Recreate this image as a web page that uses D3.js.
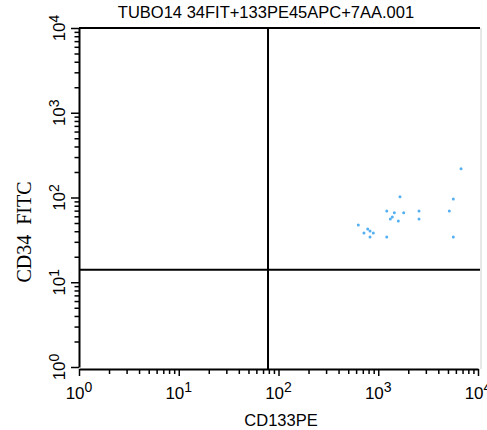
<!DOCTYPE html>
<html>
<head>
<meta charset="utf-8">
<script src="https://cdn.jsdelivr.net/npm/d3@7"></script>
<style>
  body { margin: 0; background: #fff; }
  text { fill: #000; }
</style>
</head>
<body>
<script>
const title = "TUBO14 34FIT+133PE45APC+7AA.001";
const xLabel = "CD133PE";
const yLabel = "CD34  FITC";
const exponents = [0, 1, 2, 3, 4];
const gateX = 78.5;   // vertical quadrant line (CD133PE)
const gateY = 14;     // horizontal quadrant line (CD34 FITC)

// events
const cd133 = [6760, 1652, 5654, 1216, 1449, 1799, 2563, 5156, 1384, 1321,
  1589, 2563, 631, 784, 827, 719, 892, 827, 1216, 5654];
const cd34 = [219, 102, 96, 69.3, 66.2, 66.2, 69.3, 69.3, 58.9, 55.7,
  52.8, 55.7, 47.4, 42.5, 40.3, 38.1, 38.1, 34.2, 34.2, 34.2];

const width = 487, height = 430;
const plot = { left: 79, right: 478, top: 28, bottom: 367 };

const svg = d3.select("body").append("svg")
  .attr("width", width)
  .attr("height", height);

const x = d3.scaleLog().domain([1, 1e4]).range([plot.left, plot.right]);
const y = d3.scaleLog().domain([1, 1e4]).range([plot.bottom, plot.top]);

const majors = exponents.map(e => Math.pow(10, e));
const minors = [];
exponents.slice(0, -1).forEach(e => {
  for (let k = 2; k <= 9; k++) minors.push(k * Math.pow(10, e));
});

// frame top + right
svg.append("line")
  .attr("x1", plot.left).attr("x2", 480)
  .attr("y1", plot.top).attr("y2", plot.top)
  .attr("stroke", "#000").attr("stroke-width", 2);
svg.append("line")
  .attr("x1", 481).attr("x2", 481)
  .attr("y1", plot.top).attr("y2", plot.bottom + 2)
  .attr("stroke", "#d0d0d0").attr("stroke-width", 1);

// x axis
const gx = svg.append("g").attr("transform", `translate(0,${plot.bottom + 2})`);
gx.append("g")
  .call(d3.axisBottom(x).tickValues(minors).tickSize(5).tickFormat("").tickSizeOuter(0))
  .call(g => g.select(".domain").attr("stroke-width", 2))
  .call(g => g.selectAll(".tick line").attr("stroke-width", 1.5));
gx.append("g")
  .call(d3.axisBottom(x).tickValues(majors).tickSize(7).tickFormat("").tickSizeOuter(0))
  .call(g => g.select(".domain").remove())
  .call(g => g.selectAll(".tick line").attr("stroke-width", 1.5));

gx.selectAll(".xlab")
  .data(exponents)
  .join("text")
  .attr("class", "xlab")
  .attr("x", d => x(Math.pow(10, d)))
  .attr("y", 30)
  .attr("text-anchor", "middle")
  .attr("font-family", "Liberation Sans, Arial, sans-serif")
  .attr("font-size", 17)
  .call(t => t.append("tspan").text("10"))
  .call(t => t.append("tspan").attr("dy", -7).attr("font-size", 14).text(d => d));

// y axis
const gy = svg.append("g").attr("transform", `translate(${plot.left},0)`);
gy.append("g")
  .call(d3.axisLeft(y).tickValues(minors).tickSize(4.5).tickFormat("").tickSizeOuter(0))
  .call(g => g.select(".domain").attr("stroke-width", 2))
  .call(g => g.selectAll(".tick line").attr("stroke-width", 1.5));
gy.append("g")
  .call(d3.axisLeft(y).tickValues(majors).tickSize(8).tickFormat("").tickSizeOuter(0))
  .call(g => g.select(".domain").remove())
  .call(g => g.selectAll(".tick line").attr("stroke-width", 1.5));

gy.selectAll(".ylab")
  .data(exponents)
  .join("text")
  .attr("class", "ylab")
  .attr("transform", d => `translate(-14,${y(Math.pow(10, d))}) rotate(-90)`)
  .attr("text-anchor", "middle")
  .attr("font-family", "Liberation Sans, Arial, sans-serif")
  .attr("font-size", 17)
  .call(t => t.append("tspan").text("10"))
  .call(t => t.append("tspan").attr("dy", -6).attr("font-size", 14).text(d => d));

// quadrant lines
svg.append("line")
  .attr("x1", x(gateX)).attr("x2", x(gateX))
  .attr("y1", plot.top).attr("y2", plot.bottom + 2)
  .attr("stroke", "#000").attr("stroke-width", 2);
svg.append("line")
  .attr("x1", plot.left).attr("x2", 480)
  .attr("y1", y(gateY)).attr("y2", y(gateY))
  .attr("stroke", "#000").attr("stroke-width", 2);

// events
svg.append("g")
  .attr("fill", "#55b0f2")
  .selectAll("circle")
  .data(cd133)
  .join("circle")
  .attr("cx", d => x(d))
  .attr("cy", (d, i) => y(cd34[i]))
  .attr("r", 1.5);

// titles
svg.append("text")
  .attr("x", 266).attr("y", 18)
  .attr("text-anchor", "middle")
  .attr("font-family", "Liberation Sans, Arial, sans-serif")
  .attr("font-size", 16.5)
  .text(title);

svg.append("text")
  .attr("x", 281).attr("y", 426)
  .attr("text-anchor", "middle")
  .attr("font-family", "Liberation Sans, Arial, sans-serif")
  .attr("font-size", 16.5)
  .text(xLabel);

svg.append("text")
  .attr("transform", "translate(31,232) rotate(-90)")
  .attr("text-anchor", "middle")
  .attr("font-family", "Liberation Serif, Times New Roman, serif")
  .attr("font-size", 20)
  .style("white-space", "pre")
  .text(yLabel);
</script>
</body>
</html>
